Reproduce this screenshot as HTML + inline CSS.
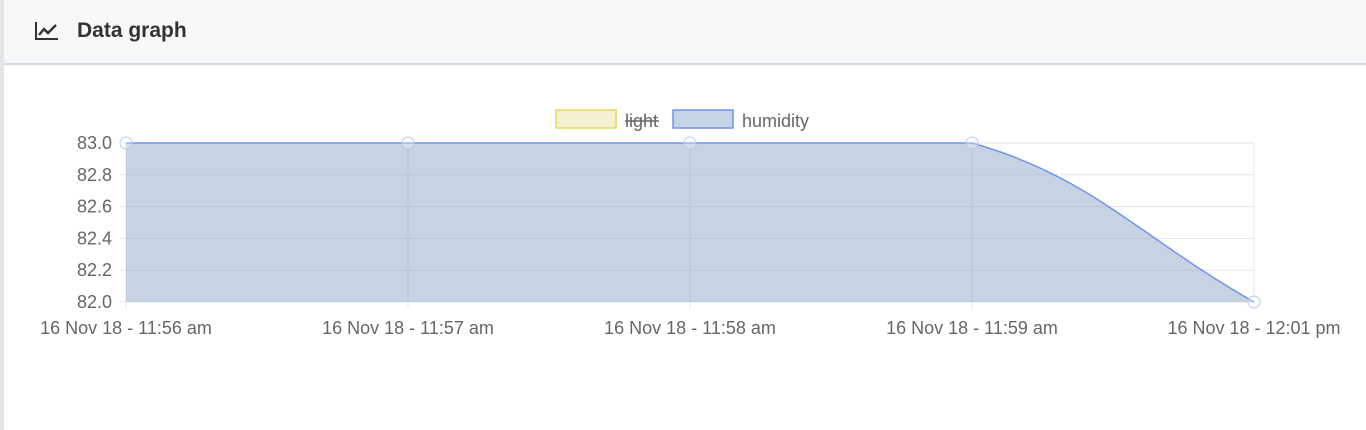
<!DOCTYPE html>
<html><head><meta charset="utf-8"><style>
body{margin:0;width:1366px;height:430px;background:#fff;font-family:"Liberation Sans",sans-serif;overflow:hidden;position:relative}
#hdr{position:absolute;left:4px;top:0;width:1362px;height:63px;background:#f7f8fa;border-bottom:2px solid #d5d8dc}
#lb{position:absolute;left:0;top:0;width:4px;height:430px;background:#e4e5e7}
#title{position:absolute;left:77px;top:19px;font-size:21px;font-weight:bold;color:#333}
</style></head><body>
<div id="lb"></div>
<div id="hdr">
<svg style="position:absolute;left:30px;top:21px" width="26" height="20" viewBox="0 0 26 20"><path d="M2 1V18H24" stroke="#333" stroke-width="2" fill="none"/><path d="M5 14L10 8L14 12L22 4" stroke="#333" stroke-width="2.4" fill="none"/></svg>
</div>
<div id="title">Data graph</div>
<svg id="chart" width="1366" height="430" style="position:absolute;left:0;top:0" font-family="Liberation Sans, sans-serif"></svg>
<script>
const labels=["16 Nov 18 - 11:56 am","16 Nov 18 - 11:57 am","16 Nov 18 - 11:58 am","16 Nov 18 - 11:59 am","16 Nov 18 - 12:01 pm"];
const humidity=[83,83,83,83,82];
const yTicks=[83.0,82.8,82.6,82.4,82.2,82.0];
const X0=126,X1=1254,Y0=143,Y1=302,ymin=82,ymax=83;
const xs=i=>X0+(X1-X0)*i/(labels.length-1);
const ys=v=>Y1-(v-ymin)/(ymax-ymin)*(Y1-Y0);
const svg=document.getElementById('chart');const NS='http://www.w3.org/2000/svg';
function mk(t,a,p){const e=document.createElementNS(NS,t);for(const k in a)e.setAttribute(k,a[k]);(p||svg).appendChild(e);return e;}
yTicks.forEach(v=>{const g=mk('line',{x1:X0-6,x2:X1,y1:ys(v),y2:ys(v),stroke:'#e5e5e5'});


const t=mk('text',{x:X0-14,y:ys(v)+6,'text-anchor':'end','font-size':18,fill:'#666'});t.textContent=v.toFixed(1);

});
labels.forEach((l,i)=>{const g=mk('line',{x1:xs(i),x2:xs(i),y1:Y0,y2:Y1+6,stroke:'#e5e5e5'});


const t=mk('text',{x:xs(i),y:334,'text-anchor':'middle','font-size':18,fill:'#666'});t.textContent=l;

});
const P=humidity.map((v,i)=>[xs(i),ys(v)]);
function ctrl(i){const p=P[i-1]||P[i],c=P[i],n=P[i+1]||P[i];
const d01=Math.hypot(c[0]-p[0],c[1]-p[1]),d12=Math.hypot(n[0]-c[0],n[1]-c[1]);
let fa=d01/(d01+d12)||0,fb=d12/(d01+d12)||0;fa*=0.4;fb*=0.4;
return {prev:[c[0]-fa*(n[0]-p[0]),c[1]-fa*(n[1]-p[1])],next:[c[0]+fb*(n[0]-p[0]),c[1]+fb*(n[1]-p[1])]};}
const cp=P.map((_,i)=>ctrl(i));
const cl=(v)=>Math.max(Y0,Math.min(Y1,v));
let d='M'+P[0][0]+','+P[0][1];
for(let i=1;i<P.length;i++){const a=cp[i-1].next,b=cp[i].prev;d+=` C${a[0]},${cl(a[1])} ${b[0]},${cl(b[1])} ${P[i][0]},${P[i][1]}`;}
const area=mk('path',{d:d+` L${X1},${Y1} L${X0},${Y1} Z`,fill:'rgba(140,168,198,0.5)'});


const ln=mk('path',{d:d,fill:'none',stroke:'#6f93ec','stroke-width':1.5});


P.forEach(p=>{const c=mk('circle',{cx:p[0],cy:p[1],r:6,fill:'rgba(255,255,255,0.3)',stroke:'#b8c8f5','stroke-width':1});

});
const lg=mk('g',{});


const r1=mk('rect',{x:556,y:110,width:60,height:18,fill:'#f4f1d0',stroke:'#e4dc5c','stroke-width':1.5},lg);


const t1=mk('text',{x:625,y:127,'font-size':18,fill:'#666'},lg);t1.textContent='light';


mk('line',{x1:625,x2:659,y1:121,y2:121,stroke:'#666','stroke-width':1.5},lg);
const r2=mk('rect',{x:673,y:110,width:60,height:18,fill:'#c5d4e4',stroke:'#6f93ec','stroke-width':1.5},lg);


const t2=mk('text',{x:742,y:127,'font-size':18,fill:'#666'},lg);t2.textContent='humidity';


</script>
</body></html>
